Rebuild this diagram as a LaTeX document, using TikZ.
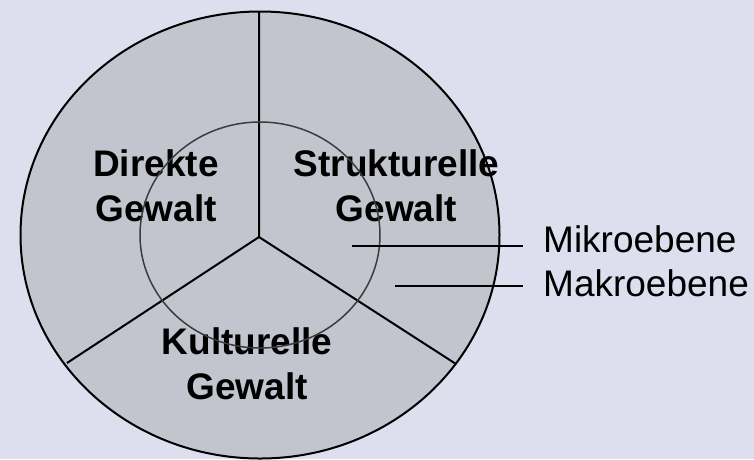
\documentclass[tikz,border=0pt]{standalone}
\usepackage{fontspec}
\setmainfont{Liberation Sans}
\usetikzlibrary{positioning}
\definecolor{bgcol}{RGB}{221,222,238}
\definecolor{ringcol}{RGB}{195,197,206}
\definecolor{innercol}{RGB}{60,60,60}

\begin{document}
\begin{tikzpicture}[x=1pt,y=-1pt,
  sector/.style={font=\bfseries\fontsize{37}{45}\selectfont,align=center,inner sep=0pt},
  level/.style={font=\fontsize{37}{45}\selectfont,anchor=base west,inner sep=0pt},
  rim/.style={line width=2pt},
  lead/.style={line width=2pt,shorten >=20pt}]
  \fill[bgcol] (0,0) rectangle (754,459);
  \useasboundingbox (0,0) rectangle (754,459);
  \coordinate (M) at (260,235);
  \coordinate (C) at (259,237);
  \fill[ringcol] (M) ellipse [x radius=239.5, y radius=223.5];
  \node[sector] (direkt) at (156,186) {Direkte\\Gewalt};
  \node[sector] (strukt) at (396.5,186) {Strukturelle\\Gewalt};
  \node[sector] (kultur) at (247,364) {Kulturelle\\Gewalt};
  \node[level] (mikro) at (543,252) {Mikroebene};
  \node[level] (makro) at (543,296) {Makroebene};
  \coordinate (top) at (259,11);
  \coordinate (left) at (67,363);
  \coordinate (right) at (456,364);
  \draw[rim] (C) -- (top) (C) -- (left) (C) -- (right);
  \draw[innercol,line width=1.5pt] (M) ellipse [x radius=120, y radius=113];
  \draw[rim] (M) ellipse [x radius=239.5, y radius=223.5];
  \coordinate (mikroA) at (352,246);
  \coordinate (makroA) at (395,286);
  \draw[lead] (mikroA) -- (mikroA -| mikro.west);
  \draw[lead] (makroA) -- (makroA -| makro.west);
\end{tikzpicture}
\end{document}
